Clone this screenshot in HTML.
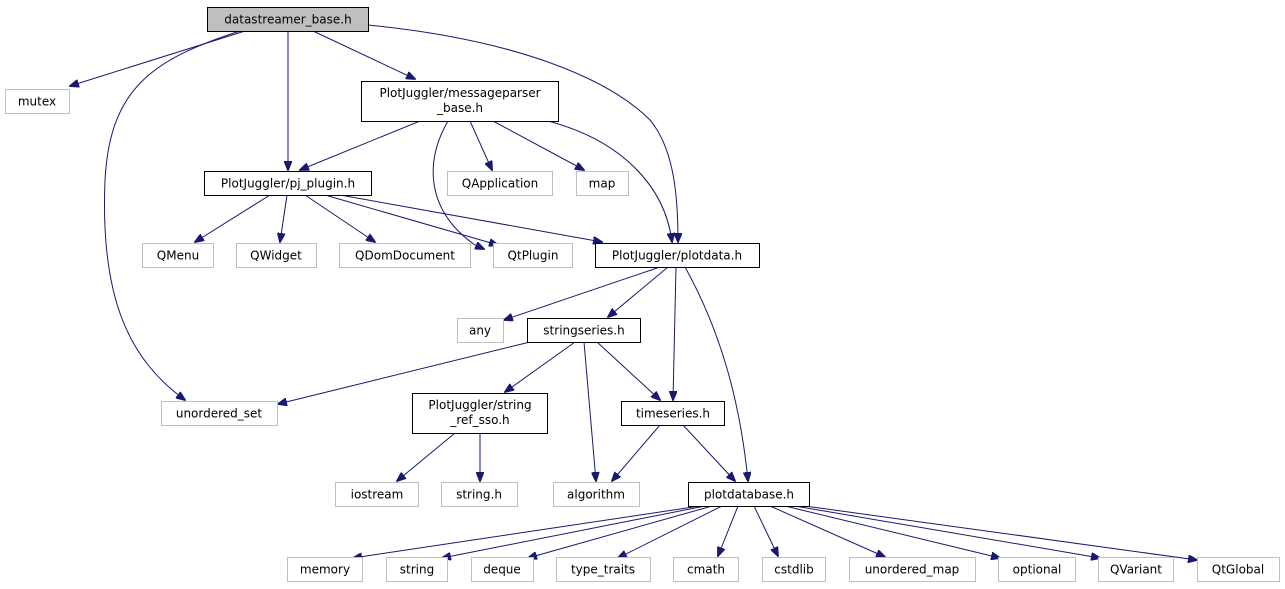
<!DOCTYPE html>
<html><head><meta charset="utf-8"><style>
html,body{margin:0;padding:0;background:#fff;}
svg{display:block;}
text{font-family:"DejaVu Sans","Liberation Sans",sans-serif;font-size:12px;fill:#000;}
.g{fill:#fff;stroke:#bfbfbf;stroke-width:1;}
.b{fill:#fff;stroke:#000;stroke-width:1;}
.e{fill:none;stroke:#191970;stroke-width:1;}
</style></head><body>
<svg width="1285" height="589" viewBox="0 0 1285 589" xmlns="http://www.w3.org/2000/svg">
<defs><marker id="a" markerWidth="10" markerHeight="8" refX="9" refY="4" orient="auto" markerUnits="userSpaceOnUse"><path d="M0,0 L10,4 L0,8 z" fill="#191970" stroke="#191970"/></marker></defs>
<g marker-end="url(#a)">
<path class="e" d="M245,31 L70,86"/>
<path class="e" d="M240,31 C150,60 110,90 105,180 C100,300 130,360 185,400"/>
<path class="e" d="M288,31 L288,170"/>
<path class="e" d="M313,31 L415,79"/>
<path class="e" d="M368,25 C520,40 610,80 650,120 C675,150 678,200 678,242"/>
<path class="e" d="M420,121 L300,170"/>
<path class="e" d="M470,121 L492,170"/>
<path class="e" d="M493,121 L584,170"/>
<path class="e" d="M448,121 C425,160 425,210 475,245 L484,249"/>
<path class="e" d="M548,121 C620,140 665,185 672,242"/>
<path class="e" d="M270,195 L195,242"/>
<path class="e" d="M287,195 L280,242"/>
<path class="e" d="M305,195 L375,242"/>
<path class="e" d="M325,195 L498,245"/>
<path class="e" d="M340,195 L602,242"/>
<path class="e" d="M660,267 L504,320"/>
<path class="e" d="M668,267 L608,317"/>
<path class="e" d="M676,267 L673,400"/>
<path class="e" d="M685,267 C720,330 740,400 748,481"/>
<path class="e" d="M530,342 L278,404"/>
<path class="e" d="M575,342 L505,392"/>
<path class="e" d="M584,342 L596,481"/>
<path class="e" d="M597,342 L660,400"/>
<path class="e" d="M455,433 L397,481"/>
<path class="e" d="M480,433 L480,481"/>
<path class="e" d="M660,425 L612,481"/>
<path class="e" d="M683,425 L735,481"/>
<path class="e" d="M700,506 L353,558"/>
<path class="e" d="M705,506 L442,558"/>
<path class="e" d="M712,506 L528,558"/>
<path class="e" d="M722,506 L618,558"/>
<path class="e" d="M738,506 L718,556"/>
<path class="e" d="M754,506 L778,556"/>
<path class="e" d="M770,506 L885,557"/>
<path class="e" d="M785,506 L1000,558"/>
<path class="e" d="M795,506 L1100,558"/>
<path class="e" d="M805,506 L1197,560"/>
</g>
<rect x="207.5" y="7.5" width="161" height="24" fill="#bfbfbf" stroke="#000"/><text x="288" y="23.5" text-anchor="middle">datastreamer_base.h</text>
<rect class="g" x="5.5" y="89.5" width="64" height="24"/><text x="37" y="105.5" text-anchor="middle">mutex</text>
<rect class="b" x="361.5" y="81.5" width="197" height="40"/><text x="460" y="97" text-anchor="middle">PlotJuggler/messageparser</text><text x="460" y="112" text-anchor="middle">_base.h</text>
<rect class="b" x="204.5" y="171.5" width="167" height="24"/><text x="288" y="187.5" text-anchor="middle">PlotJuggler/pj_plugin.h</text>
<rect class="g" x="447.5" y="171.5" width="105" height="24"/><text x="500" y="187.5" text-anchor="middle">QApplication</text>
<rect class="g" x="576.5" y="171.5" width="52" height="24"/><text x="602" y="187.5" text-anchor="middle">map</text>
<rect class="g" x="142.5" y="243.5" width="71" height="24"/><text x="178" y="259.5" text-anchor="middle">QMenu</text>
<rect class="g" x="236.5" y="243.5" width="80" height="24"/><text x="276" y="259.5" text-anchor="middle">QWidget</text>
<rect class="g" x="339.5" y="243.5" width="131" height="24"/><text x="405" y="259.5" text-anchor="middle">QDomDocument</text>
<rect class="g" x="493.5" y="243.5" width="79" height="24"/><text x="533" y="259.5" text-anchor="middle">QtPlugin</text>
<rect class="b" x="595.5" y="243.5" width="164" height="24"/><text x="677" y="259.5" text-anchor="middle">PlotJuggler/plotdata.h</text>
<rect class="g" x="457.5" y="318.5" width="46" height="24"/><text x="480" y="334.5" text-anchor="middle">any</text>
<rect class="b" x="527.5" y="318.5" width="113" height="24"/><text x="584" y="334.5" text-anchor="middle">stringseries.h</text>
<rect class="g" x="161.5" y="401.5" width="116" height="24"/><text x="219" y="417.5" text-anchor="middle">unordered_set</text>
<rect class="b" x="412.5" y="393.5" width="135" height="40"/><text x="480" y="409" text-anchor="middle">PlotJuggler/string</text><text x="480" y="424" text-anchor="middle">_ref_sso.h</text>
<rect class="b" x="621.5" y="401.5" width="103" height="24"/><text x="673" y="417.5" text-anchor="middle">timeseries.h</text>
<rect class="g" x="335.5" y="482.5" width="83" height="24"/><text x="377" y="498.5" text-anchor="middle">iostream</text>
<rect class="g" x="441.5" y="482.5" width="76" height="24"/><text x="479" y="498.5" text-anchor="middle">string.h</text>
<rect class="g" x="553.5" y="482.5" width="86" height="24"/><text x="596" y="498.5" text-anchor="middle">algorithm</text>
<rect class="b" x="688.5" y="482.5" width="121" height="24"/><text x="749" y="498.5" text-anchor="middle">plotdatabase.h</text>
<rect class="g" x="287.5" y="557.5" width="75" height="24"/><text x="325" y="573.5" text-anchor="middle">memory</text>
<rect class="g" x="386.5" y="557.5" width="61" height="24"/><text x="417" y="573.5" text-anchor="middle">string</text>
<rect class="g" x="471.5" y="557.5" width="62" height="24"/><text x="502" y="573.5" text-anchor="middle">deque</text>
<rect class="g" x="556.5" y="557.5" width="94" height="24"/><text x="603" y="573.5" text-anchor="middle">type_traits</text>
<rect class="g" x="673.5" y="557.5" width="65" height="24"/><text x="706" y="573.5" text-anchor="middle">cmath</text>
<rect class="g" x="762.5" y="557.5" width="63" height="24"/><text x="794" y="573.5" text-anchor="middle">cstdlib</text>
<rect class="g" x="849.5" y="557.5" width="126" height="24"/><text x="912" y="573.5" text-anchor="middle">unordered_map</text>
<rect class="g" x="998.5" y="557.5" width="77" height="24"/><text x="1037" y="573.5" text-anchor="middle">optional</text>
<rect class="g" x="1098.5" y="557.5" width="75" height="24"/><text x="1136" y="573.5" text-anchor="middle">QVariant</text>
<rect class="g" x="1197.5" y="557.5" width="82" height="24"/><text x="1238" y="573.5" text-anchor="middle">QtGlobal</text>
</svg>
</body></html>
